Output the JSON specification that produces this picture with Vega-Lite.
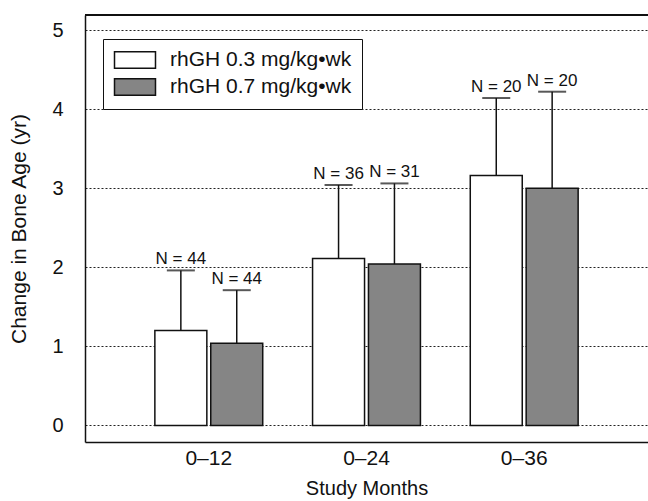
{
  "$schema": "https://vega.github.io/schema/vega-lite/v6.json",
  "autosize": "none",
  "padding": {"left": 85, "top": 15, "right": 0, "bottom": 59},
  "width": 563,
  "height": 427,
  "background": "white",
  "config": {
    "view": {"stroke": null},
    "font": "Liberation Sans",
    "axis": {"labelColor": "#111", "titleColor": "#111", "titleFontWeight": "normal"}
  },
  "data": {
    "values": [
      {"period": "0–12", "dose": "rhGH 0.3 mg/kg•wk", "mean": 1.2, "upper": 1.96, "label": "N = 44"},
      {"period": "0–12", "dose": "rhGH 0.7 mg/kg•wk", "mean": 1.04, "upper": 1.71, "label": "N = 44"},
      {"period": "0–24", "dose": "rhGH 0.3 mg/kg•wk", "mean": 2.11, "upper": 3.04, "label": "N = 36"},
      {"period": "0–24", "dose": "rhGH 0.7 mg/kg•wk", "mean": 2.04, "upper": 3.06, "label": "N = 31"},
      {"period": "0–36", "dose": "rhGH 0.3 mg/kg•wk", "mean": 3.16, "upper": 4.14, "label": "N = 20"},
      {"period": "0–36", "dose": "rhGH 0.7 mg/kg•wk", "mean": 3.0, "upper": 4.22, "label": "N = 20"}
    ]
  },
  "layer": [
    {
      "encoding": {
        "x": {
          "field": "period", "type": "nominal", "sort": ["0–12", "0–24", "0–36"],
          "scale": {"paddingInner": 0.316, "paddingOuter": 0.443},
          "axis": {"title": "Study Months", "labelAngle": 0, "labelFontSize": 21, "titleFontSize": 20, "labelPadding": 5, "titlePadding": 10, "ticks": false, "domainColor": "#111", "domainWidth": 1.5}
        },
        "xOffset": {"field": "dose", "type": "nominal", "scale": {"paddingInner": 0.07}}
      },
      "layer": [
        {
          "mark": {"type": "bar", "stroke": "#111", "strokeWidth": 1.5},
          "encoding": {
            "y": {
              "field": "mean", "type": "quantitative",
              "scale": {"domain": [-0.21, 5.19], "nice": false, "zero": false},
              "axis": {"title": "Change in Bone Age (yr)", "values": [0, 1, 2, 3, 4, 5], "format": "d", "labelFontSize": 20, "titleFontSize": 21, "ticks": false, "labelPadding": 22, "titlePadding": 22, "grid": true, "gridDash": [2, 2], "gridColor": "#222", "gridWidth": 1.2, "domainColor": "#111", "domainWidth": 1.5}
            },
            "fill": {
              "field": "dose", "type": "nominal",
              "scale": {"range": ["#ffffff", "#858585"]},
              "legend": {
                "title": null, "orient": "none", "legendX": 18, "legendY": 24,
                "strokeColor": "#111", "padding": 10, "labelFontSize": 21, "labelColor": "#111", "labelLimit": 400,
                "symbolType": "M-2,-0.8H2V0.8H-2Z", "symbolSize": 420, "symbolStrokeColor": "#111", "symbolStrokeWidth": 1.5,
                "symbolOffset": 11, "rowPadding": 3, "labelOffset": 24, "fillColor": "white"
              }
            }
          }
        },
        {
          "mark": {"type": "rule", "color": "#111", "strokeWidth": 1.5},
          "encoding": {"y": {"field": "mean", "type": "quantitative"}, "y2": {"field": "upper"}}
        },
        {
          "mark": {"type": "tick", "color": "#111", "thickness": 2, "size": 28, "orient": "horizontal"},
          "encoding": {"y": {"field": "upper", "type": "quantitative"}}
        },
        {
          "mark": {"type": "text", "fontSize": 17, "dy": -6, "color": "#111", "baseline": "alphabetic"},
          "encoding": {"y": {"field": "upper", "type": "quantitative"}, "text": {"field": "label"}}
        }
      ]
    },
    {
      "mark": {"type": "rule", "color": "#111", "strokeWidth": 1.5},
      "encoding": {"y": {"datum": 5.19}}
    }
  ]
}
